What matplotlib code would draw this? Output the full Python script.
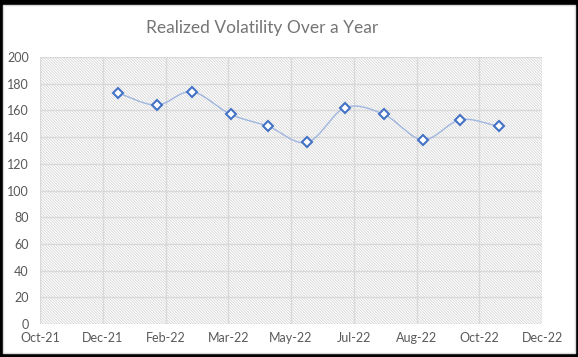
import matplotlib
matplotlib.use("Agg")
import matplotlib.pyplot as plt
import matplotlib.dates as mdates
from matplotlib.patches import Rectangle
import numpy as np
import pandas as pd

#%% Data
months = pd.date_range("2022-01-01", "2022-11-01", freq="MS")
volatility = [173, 164, 174, 157, 148, 136, 162, 157, 138, 153, 148]

x_start = pd.Timestamp("2021-10-31")
x_step_days = 50
n_xticks = 9
y_ticks = np.arange(0, 201, 20)

title = "Realized Volatility Over a Year"

#%% Smooth line (Catmull-Rom, like Excel's smoothed line)
def smooth(xs, ys, n=30):
    xs = np.asarray(xs, dtype=float)
    ys = np.asarray(ys, dtype=float)
    px = np.concatenate([[2*xs[0]-xs[1]], xs, [2*xs[-1]-xs[-2]]])
    py = np.concatenate([[2*ys[0]-ys[1]], ys, [2*ys[-1]-ys[-2]]])
    out_x, out_y = [], []
    t = np.linspace(0, 1, n)
    for i in range(1, len(px)-2):
        p0, p1, p2, p3 = [np.array([px[j], py[j]]) for j in range(i-1, i+3)]
        c1 = p1 + (p2 - p0) / 6
        c2 = p2 - (p3 - p1) / 6
        b = ((1-t)**3)[:, None]*p1 + (3*(1-t)**2*t)[:, None]*c1 \
            + (3*(1-t)*t**2)[:, None]*c2 + (t**3)[:, None]*p2
        out_x.extend(b[:, 0]); out_y.extend(b[:, 1])
    return np.array(out_x), np.array(out_y)

xnum = mdates.date2num(months.to_pydatetime())
sx, sy = smooth(xnum, volatility)

#%% Plot
plt.rcParams["font.family"] = ["Lato", "DejaVu Sans"]
plt.rcParams["hatch.linewidth"] = 0.5

fig = plt.figure(figsize=(5.78, 3.57), dpi=100, facecolor="black")
fig.patches.append(Rectangle((3/578, 4/357), 572/578, 348/357, transform=fig.transFigure,
                             facecolor="white", edgecolor="#D9D9D9", linewidth=1, zorder=-10))

ax = fig.add_axes([40/578, 33/357, 502/578, 267/357])
ax.set_facecolor("white")
ax.add_patch(Rectangle((0, 0), 1, 1, transform=ax.transAxes, facecolor="white",
                       edgecolor="#CFCFCF", hatch="\\" * 12, linewidth=0, zorder=0))

ax.plot(sx, sy, color="#9FB6E0", linewidth=1.0, zorder=3)
ax.plot(xnum, volatility, linestyle="none", marker="D", markersize=5,
        markerfacecolor="white", markeredgecolor="#4472C4", markeredgewidth=1.5, zorder=4)

xticks = [x_start + pd.Timedelta(days=x_step_days*k) for k in range(n_xticks)]
xt = mdates.date2num([d.to_pydatetime() for d in xticks])
ax.set_xlim(xt[0], xt[-1])
ax.set_xticks(xt)
ax.xaxis.set_major_formatter(mdates.DateFormatter("%b-%y"))
ax.set_ylim(0, 200)
ax.set_yticks(y_ticks)

ax.grid(True, color="#D9D9D9", linewidth=1)
ax.set_axisbelow(False)
for s in ax.spines.values():
    s.set_visible(False)
ax.tick_params(length=0, labelsize=9, colors="#595959", pad=6)
ax.tick_params(axis="y", pad=8)
for gl in ax.get_xgridlines() + ax.get_ygridlines():
    gl.set_zorder(1)

fig.text(262/578, 1 - 28/357, title, ha="center", va="center", fontsize=12.5, color="#757575")

plt.savefig("out.png", dpi=100, facecolor=fig.get_facecolor())
